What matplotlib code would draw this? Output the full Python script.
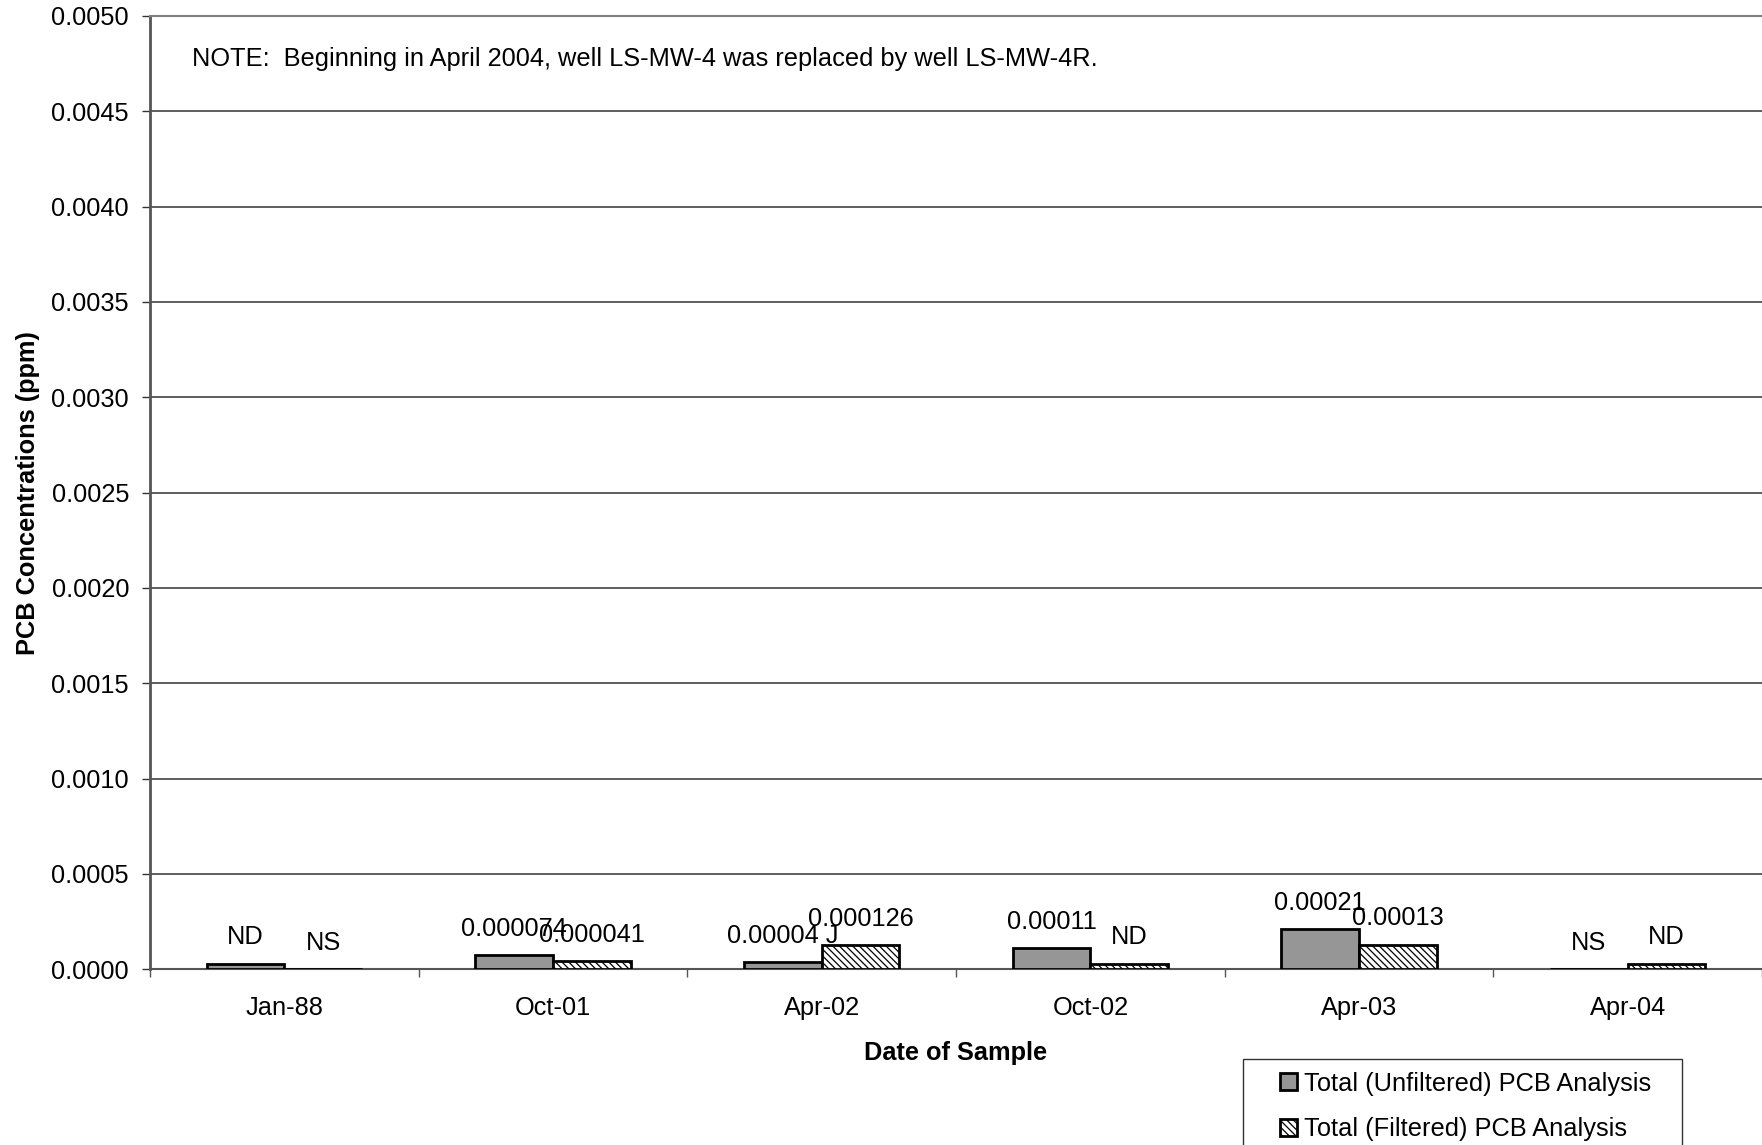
import matplotlib
matplotlib.use("Agg")
import matplotlib.pyplot as plt
from matplotlib.patches import Rectangle
from matplotlib.legend_handler import HandlerPatch
import numpy as np

plt.rcParams['font.family'] = ['Liberation Sans', 'DejaVu Sans']
plt.rcParams['hatch.linewidth'] = 0.9

# Sampling events
dates = ["Jan-88", "Oct-01", "Apr-02", "Oct-02", "Apr-03", "Apr-04"]

# Total (unfiltered) PCB, ppm; ND plotted at the reporting limit, NS as zero
unfiltered = [0.00003, 0.000074, 0.00004, 0.00011, 0.00021, 0.0]
unfiltered_labels = ["ND", "0.000074", "0.00004 J", "0.00011", "0.00021", "NS"]

# Total (filtered) PCB, ppm
filtered = [0.0, 0.000041, 0.000126, 0.00003, 0.00013, 0.00003]
filtered_labels = ["NS", "0.000041", "0.000126", "ND", "0.00013", "ND"]

legend_names = ["Total (Unfiltered) PCB Analysis", "Total (Filtered) PCB Analysis"]

y_ticks = np.arange(0, 0.00501, 0.0005)

W, H = 1762, 1145
fig = plt.figure(figsize=(W / 100, H / 100), dpi=100)
ax_left, ax_top, ax_bottom = 150, 16, 969.3
ax = fig.add_axes([ax_left / W, 1 - ax_bottom / H, 1 - ax_left / W,
                   (ax_bottom - ax_top) / H])

x = np.arange(len(dates))
bw = 0.289
b1 = ax.bar(x - bw / 2, unfiltered, bw, color="#969696", edgecolor="black",
            linewidth=2, zorder=3)
b2 = ax.bar(x + bw / 2, filtered, bw, color="white", edgecolor="black",
            linewidth=2, hatch="\\" * 5, zorder=3)

fs = 18.25
for xi, v, t in zip(x - bw / 2, unfiltered, unfiltered_labels):
    ax.annotate(t, (xi, v), xytext=(0, 13.8), textcoords="offset points",
                ha="center", va="baseline", fontsize=fs, zorder=5)
for xi, v, t in zip(x + bw / 2, filtered, filtered_labels):
    ax.annotate(t, (xi, v), xytext=(0, 13.8), textcoords="offset points",
                ha="center", va="baseline", fontsize=fs, zorder=5)

ax.set_xlim(-0.5, len(dates) - 0.5)
ax.set_ylim(0, 0.005)
ax.set_yticks(y_ticks)
ax.set_yticklabels([f"{v:.4f}" for v in y_ticks], fontsize=fs)
ax.yaxis.grid(True, color="#333333", linewidth=1.1, zorder=0)
ax.set_axisbelow(True)

# category boundaries as major ticks, names centred as minor ticks
ax.set_xticks(np.arange(-0.5, len(dates) - 0.4, 1.0))
ax.set_xticklabels([])
ax.set_xticks(x, minor=True)
ax.set_xticklabels(dates, minor=True, fontsize=fs)
ax.tick_params(axis="x", which="minor", length=0, pad=19)
ax.tick_params(axis="x", which="major", length=6, width=1, color="#555555")
ax.tick_params(axis="y", length=5.8, width=1, color="#333333", pad=9.3)

ax.spines["right"].set_visible(False)
ax.spines["top"].set_color("#808080")
ax.spines["top"].set_linewidth(1.5)
ax.spines["left"].set_color("#555555")
ax.spines["left"].set_linewidth(2)
ax.spines["bottom"].set_color("#555555")
ax.spines["bottom"].set_linewidth(1.5)

fig.text(28.5 / W, 1 - (ax_top + ax_bottom) / 2 / H, "PCB Concentrations (ppm)",
         rotation=90, ha="center", va="center", fontsize=fs, fontweight="bold")
ax.set_xlabel("Date of Sample", fontsize=fs, fontweight="bold", labelpad=15)

ax.text(191.5 / W, 1 - 66 / H,
        "NOTE:  Beginning in April 2004, well LS-MW-4 was replaced by well LS-MW-4R.",
        transform=fig.transFigure, fontsize=fs, va="baseline", ha="left")


def square_key(legend, orig_handle, xdescent, ydescent, width, height, fontsize):
    # small square key drawn at the right end of the handle slot
    side = height
    return Rectangle((width - side - xdescent, -ydescent), side, side)


leg = fig.legend(handles=[b1.patches[0], b2.patches[0]], labels=legend_names,
                 loc="upper left",
                 bbox_to_anchor=(1243 / W, 1 - 1060.3 / H, 439 / W, 0.001),
                 bbox_transform=fig.transFigure, fontsize=fs, mode="expand",
                 frameon=True, fancybox=False, edgecolor="black",
                 handlelength=1.62, handleheight=0.65, handletextpad=0.3,
                 borderpad=0.5, labelspacing=0.85, borderaxespad=0,
                 handler_map={Rectangle: HandlerPatch(patch_func=square_key)})
leg.get_frame().set_linewidth(1.0)
leg.set_zorder(10)

fig.savefig("out.png", dpi=100)
